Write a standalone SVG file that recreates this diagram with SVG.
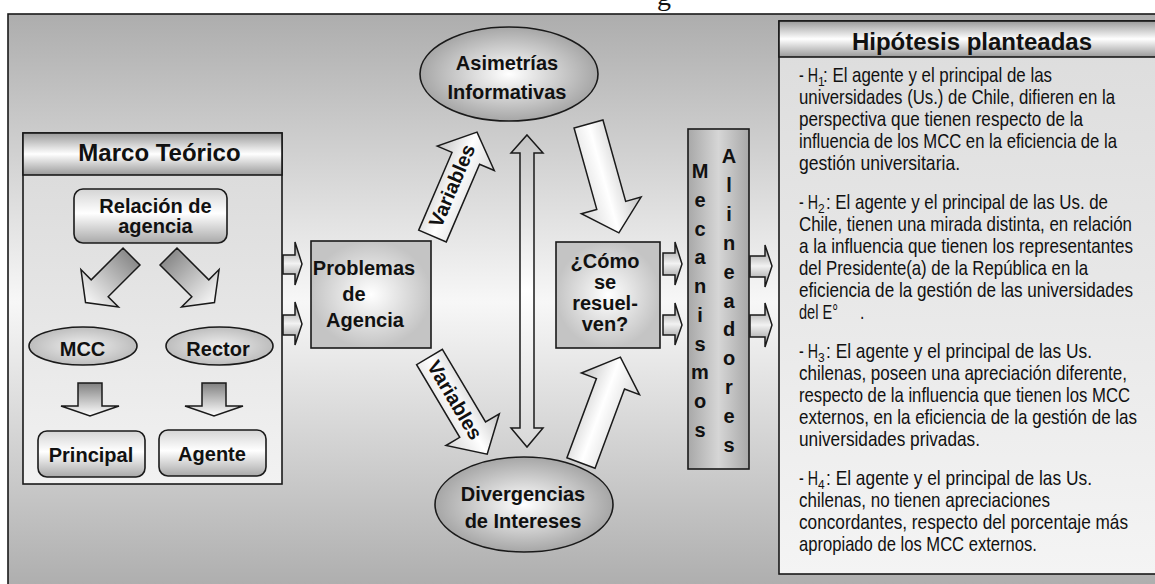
<svg xmlns="http://www.w3.org/2000/svg" width="1155" height="584" viewBox="0 0 1155 584">
<style>
.t{font-family:"Liberation Sans",Arial,sans-serif;font-weight:bold;font-size:20px;fill:#111;text-anchor:middle}
.hd{font-size:24px}
.b{font-family:"Liberation Sans",Arial,sans-serif;font-size:21px;fill:#111}
.sb{font-family:"Liberation Sans",Arial,sans-serif;font-size:12px;fill:#111}
.s{stroke:#1a1a1a;stroke-width:1.6}
.a{stroke:#1a1a1a;stroke-width:1.5;stroke-linejoin:miter}
</style>
<defs>
<linearGradient id="bg" gradientUnits="userSpaceOnUse" x1="0" y1="14" x2="0" y2="590"><stop offset="0" stop-color="#adadad"/><stop offset="0.5" stop-color="#f7f7f7"/><stop offset="1" stop-color="#adadad"/></linearGradient>
<linearGradient id="hdr" x1="0" y1="0" x2="0" y2="1"><stop offset="0" stop-color="#9a9a9a"/><stop offset="0.5" stop-color="#ffffff"/><stop offset="1" stop-color="#9a9a9a"/></linearGradient>
<linearGradient id="pb" x1="0" y1="0" x2="0" y2="1"><stop offset="0" stop-color="#d9d9d9"/><stop offset="1" stop-color="#f2f2f2"/></linearGradient>
<linearGradient id="hb" x1="0" y1="0" x2="0" y2="1"><stop offset="0" stop-color="#dcdcdc"/><stop offset="1" stop-color="#f4f4f4"/></linearGradient>
<linearGradient id="rb" x1="0" y1="0" x2="0" y2="1"><stop offset="0" stop-color="#d4d4d4"/><stop offset="0.45" stop-color="#ffffff"/><stop offset="1" stop-color="#a9a9a9"/></linearGradient>
<radialGradient id="el"><stop offset="0" stop-color="#efefef"/><stop offset="1" stop-color="#bdbdbd"/></radialGradient>
<radialGradient id="eb"><stop offset="0" stop-color="#ffffff"/><stop offset="1" stop-color="#a6a6a6"/></radialGradient>
<radialGradient id="sq"><stop offset="0" stop-color="#ffffff"/><stop offset="1" stop-color="#c4c4c4"/></radialGradient>
<linearGradient id="mec" x1="0" y1="0" x2="1" y2="0"><stop offset="0" stop-color="#a8a8a8"/><stop offset="0.5" stop-color="#d6d6d6"/><stop offset="1" stop-color="#a8a8a8"/></linearGradient>
<linearGradient id="ax" x1="0" y1="0" x2="0" y2="1"><stop offset="0" stop-color="#c4c4c4"/><stop offset="0.5" stop-color="#ffffff"/><stop offset="1" stop-color="#d8d8d8"/></linearGradient>
<linearGradient id="dk" x1="0" y1="0" x2="1" y2="0"><stop offset="0" stop-color="#8a8a8a"/><stop offset="1" stop-color="#f8f8f8"/></linearGradient>
<linearGradient id="dn" x1="0" y1="0" x2="0" y2="1"><stop offset="0" stop-color="#808080"/><stop offset="1" stop-color="#ffffff"/></linearGradient>
<linearGradient id="sm" x1="0" y1="0" x2="0" y2="1"><stop offset="0" stop-color="#8c8c8c"/><stop offset="0.5" stop-color="#f2f2f2"/><stop offset="1" stop-color="#8c8c8c"/></linearGradient>
<path id="big" d="M0,-15 L84.5,-15 L84.5,-31 L113,0 L84.5,31 L84.5,15 L0,15 Z"/>
<path id="diag" d="M0,-12 L45,-12 L45,-26.5 L65,0 L45,26.5 L45,12 L0,12 Z"/>
</defs>

<text x="657" y="5" style="font-family:'Liberation Serif',serif;font-size:28px;fill:#111">g</text>

<rect x="8" y="14" width="1160" height="580" fill="url(#bg)" class="s"/>

<g id="marco">
<rect x="23" y="133" width="259" height="351" fill="url(#pb)" class="s"/>
<rect x="23" y="133" width="259" height="42" fill="url(#hdr)" class="s"/>
<text x="159.5" y="161" class="t hd">Marco Teórico</text>
</g>

<g id="relacion">
<rect x="74" y="189" width="153" height="54" rx="9" fill="url(#rb)" class="s"/>
<text x="155.5" y="213" class="t">Relación de</text>
<text x="155.5" y="233" class="t">agencia</text>
</g>

<g id="mcc">
<ellipse cx="83" cy="346" rx="54" ry="19" fill="url(#el)" class="s"/>
<text x="82.5" y="356" class="t">MCC</text>
</g>
<g id="rector">
<ellipse cx="219.5" cy="346" rx="53.5" ry="19" fill="url(#el)" class="s"/>
<text x="218" y="356" class="t">Rector</text>
</g>

<g id="principal">
<rect x="38" y="431" width="107" height="46" rx="9" fill="url(#rb)" class="s"/>
<text x="91" y="462" class="t">Principal</text>
</g>
<g id="agente">
<rect x="159" y="430" width="107" height="46" rx="9" fill="url(#rb)" class="s"/>
<text x="212" y="461" class="t">Agente</text>
</g>

<g id="problemas">
<rect x="311" y="241" width="120" height="107" fill="url(#sq)" class="s"/>
<text x="364" y="275" class="t">Problemas</text>
<text x="354" y="301" class="t">de</text>
<text x="365" y="327" class="t">Agencia</text>
</g>

<g id="asimetrias">
<ellipse cx="509" cy="74" rx="89" ry="47" fill="url(#eb)" class="s"/>
<text x="507" y="70" class="t">Asimetrías</text>
<text x="507" y="99" class="t">Informativas</text>
</g>

<g id="divergencias">
<ellipse cx="524" cy="504.5" rx="89" ry="47.5" fill="url(#eb)" class="s"/>
<text x="523" y="501" class="t">Divergencias</text>
<text x="523" y="528" class="t">de Intereses</text>
</g>

<g id="como">
<rect x="556" y="242" width="104" height="106" fill="url(#sq)" class="s"/>
<text x="605" y="268" class="t">¿Cómo</text>
<text x="605" y="289" class="t">se</text>
<text x="605" y="310" class="t">resuel-</text>
<text x="605" y="331" class="t">ven?</text>
</g>

<g id="mecanismos">
<rect x="688" y="129" width="61" height="340" fill="url(#mec)" class="s"/>
<g class="t">
<text x="700" y="178">M</text><text x="700" y="207">e</text><text x="700" y="236">c</text><text x="700" y="264">a</text><text x="700" y="293">n</text><text x="700" y="322">i</text><text x="700" y="351">s</text><text x="700" y="379">m</text><text x="700" y="408">o</text><text x="700" y="437">s</text>
<text x="729" y="163">A</text><text x="729" y="192">l</text><text x="729" y="221">i</text><text x="729" y="250">n</text><text x="729" y="279">e</text><text x="729" y="308">a</text><text x="729" y="336">d</text><text x="729" y="365">o</text><text x="729" y="394">r</text><text x="729" y="423">e</text><text x="729" y="452">s</text>
</g>
</g>

<g id="hipotesis">
<rect x="779" y="21" width="390" height="553" fill="url(#hb)" class="s"/>
<rect x="779" y="21" width="390" height="36" fill="url(#hdr)" class="s"/>
<text x="972" y="50" class="t hd">Hipótesis planteadas</text>
<g class="b">
<text transform="matrix(0.75,0,0,1,799,82)" textLength="25.3" lengthAdjust="spacingAndGlyphs">- H</text>
<text x="818" y="86" class="sb">1</text>
<text transform="matrix(0.75,0,0,1,823,82)" textLength="305.3" lengthAdjust="spacingAndGlyphs">: El agente y el principal de las</text>
<text transform="matrix(0.75,0,0,1,799,104)" textLength="421.3" lengthAdjust="spacingAndGlyphs">universidades (Us.) de Chile, difieren en la</text>
<text transform="matrix(0.75,0,0,1,799,126)" textLength="378.7" lengthAdjust="spacingAndGlyphs">perspectiva que tienen respecto de la</text>
<text transform="matrix(0.75,0,0,1,799,148)" textLength="424" lengthAdjust="spacingAndGlyphs">influencia de los MCC en la eficiencia de la</text>
<text transform="matrix(0.75,0,0,1,799,170)" textLength="214.7" lengthAdjust="spacingAndGlyphs">gestión universitaria.</text>

<text transform="matrix(0.75,0,0,1,799,209)" textLength="25.3" lengthAdjust="spacingAndGlyphs">- H</text>
<text x="818" y="213" class="sb">2</text>
<text transform="matrix(0.75,0,0,1,826,209)" textLength="376" lengthAdjust="spacingAndGlyphs">: El agente y el principal de las Us. de</text>
<text transform="matrix(0.75,0,0,1,799,231)" textLength="444" lengthAdjust="spacingAndGlyphs">Chile, tienen una mirada distinta, en relación</text>
<text transform="matrix(0.75,0,0,1,799,253)" textLength="445.3" lengthAdjust="spacingAndGlyphs">a la influencia que tienen los representantes</text>
<text transform="matrix(0.75,0,0,1,799,275)" textLength="385.3" lengthAdjust="spacingAndGlyphs">del Presidente(a) de la República en la</text>
<text transform="matrix(0.75,0,0,1,799,297)" textLength="445.3" lengthAdjust="spacingAndGlyphs">eficiencia de la gestión de las universidades</text>
<text transform="matrix(0.75,0,0,1,799,319)" textLength="52" lengthAdjust="spacingAndGlyphs">del E°</text>
<text transform="matrix(0.75,0,0,1,860,319)">.</text>

<text transform="matrix(0.75,0,0,1,799,358)" textLength="25.3" lengthAdjust="spacingAndGlyphs">- H</text>
<text x="818" y="362" class="sb">3</text>
<text transform="matrix(0.75,0,0,1,826,358)" textLength="354.7" lengthAdjust="spacingAndGlyphs">: El agente y el principal de las Us.</text>
<text transform="matrix(0.75,0,0,1,799,380)" textLength="437.3" lengthAdjust="spacingAndGlyphs">chilenas, poseen una apreciación diferente,</text>
<text transform="matrix(0.75,0,0,1,799,402)" textLength="441.3" lengthAdjust="spacingAndGlyphs">respecto de la influencia que tienen los MCC</text>
<text transform="matrix(0.75,0,0,1,799,424)" textLength="450.7" lengthAdjust="spacingAndGlyphs">externos, en la eficiencia de la gestión de las</text>
<text transform="matrix(0.75,0,0,1,799,446)" textLength="241.3" lengthAdjust="spacingAndGlyphs">universidades privadas.</text>

<text transform="matrix(0.75,0,0,1,799,485)" textLength="25.3" lengthAdjust="spacingAndGlyphs">- H</text>
<text x="818" y="489" class="sb">4</text>
<text transform="matrix(0.75,0,0,1,826,485)" textLength="354.7" lengthAdjust="spacingAndGlyphs">: El agente y el principal de las Us.</text>
<text transform="matrix(0.75,0,0,1,799,507)" textLength="334.7" lengthAdjust="spacingAndGlyphs">chilenas, no tienen apreciaciones</text>
<text transform="matrix(0.75,0,0,1,799,529)" textLength="438.7" lengthAdjust="spacingAndGlyphs">concordantes, respecto del porcentaje más</text>
<text transform="matrix(0.75,0,0,1,799,551)" textLength="317.3" lengthAdjust="spacingAndGlyphs">apropiado de los MCC externos.</text>
</g>
</g>

<g id="connectors">
<use href="#diag" transform="translate(131.5,256.5) rotate(135)" fill="url(#dk)" class="a"/>
<use href="#diag" transform="translate(168.5,256.5) rotate(45)" fill="url(#dk)" class="a"/>
<path d="M78,383 H102 V406 H119 L90,416 L61,406 H78 Z" fill="url(#dn)" class="a"/>
<path d="M202,383 H226 V406 H243 L214,416 L185,406 H202 Z" fill="url(#dn)" class="a"/>
<path d="M283,255 H295 V242 L302,264 L295,285 V274 H283 Z" fill="url(#sm)" class="a"/>
<path d="M283,315 H295 V302 L302,324 L295,345 V335 H283 Z" fill="url(#sm)" class="a"/>
<path d="M663,253 H675 V242 L682,264 L675,285 V275 H663 Z" fill="url(#sm)" class="a"/>
<path d="M663,315 H675 V303 L682,325 L675,345 V335 H663 Z" fill="url(#sm)" class="a"/>
<path d="M750,256 H765 V245 L772,266 L765,287 V277 H750 Z" fill="url(#sm)" class="a"/>
<path d="M750,315 H765 V303 L772,325 L765,347 V337 H750 Z" fill="url(#sm)" class="a"/>
<path d="M527,135 L543,153 L534,153 L534,428 L543,428 L527,447 L511,428 L520,428 L520,153 L511,153 Z" fill="url(#ax)" class="a"/>
<g transform="translate(432.5,236) rotate(-66.8)">
<use href="#big" fill="url(#ax)" class="a"/>
<text x="54" y="5" class="t">Variables</text>
</g>
<g transform="translate(429.5,357) rotate(59.3)">
<use href="#big" fill="url(#ax)" class="a"/>
<text x="50" y="7" class="t">Variables</text>
</g>
<use href="#big" transform="translate(588.5,124) rotate(74.4)" fill="url(#ax)" class="a"/>
<use href="#big" transform="translate(581,463) rotate(-69.6)" fill="url(#ax)" class="a"/>
</g>
</svg>
